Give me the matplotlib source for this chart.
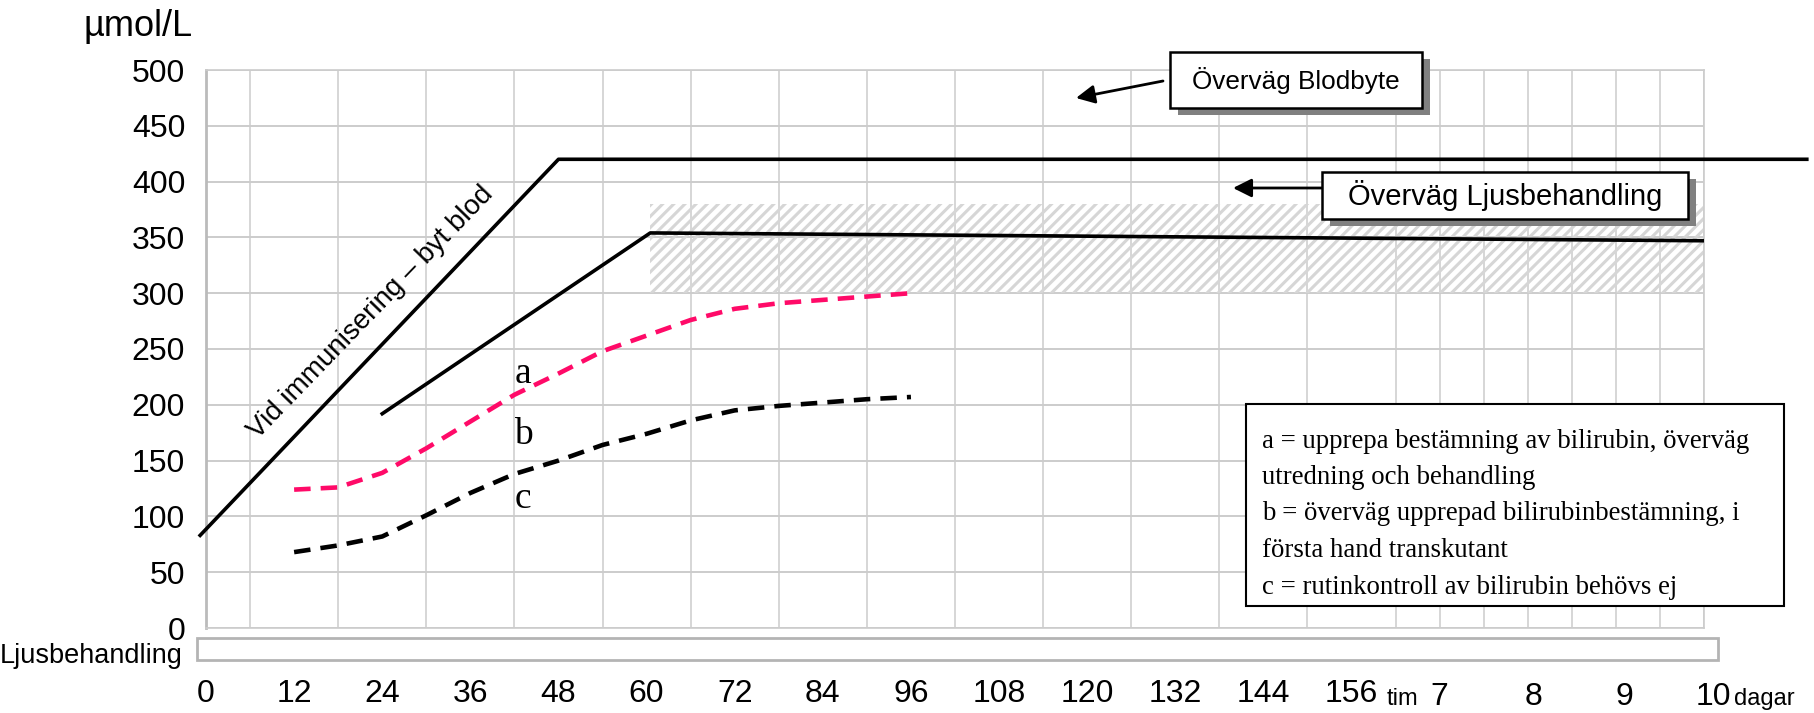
import numpy as np
import matplotlib
matplotlib.use('Agg')
import matplotlib.pyplot as plt
from matplotlib.patches import Rectangle

plt.rcParams['font.family'] = ['Liberation Sans', 'DejaVu Sans']
plt.rcParams['hatch.linewidth'] = 2.2

# data (hours, umol/L)
exchange_x = [-0.8, 48, 218]
exchange_y = [83, 420, 420]
photo_x = [24, 60.5, 204]
photo_y = [192, 354, 347]
band_x = [60.5, 204]
band_low = 300
band_high = 380

curve_hours = [12, 18, 24, 30, 36, 42, 48, 54, 60, 66, 72, 78, 84, 90, 96]
curve_a = [124, 126, 139, 161, 185, 209, 228, 248, 262, 276, 286, 291, 294, 297, 300]
curve_c = [68, 74, 82, 101, 121, 138, 150, 164, 174, 186, 195, 199, 202, 205, 207]

hour_ticks = list(range(0, 157, 12))
day_pos = [168, 180.8, 193.2, 205.3]
day_labels = ['7', '8', '9', '10']
y_ticks = list(range(0, 501, 50))

legend_lines = [
    'a = upprepa bestämning av bilirubin, överväg',
    'utredning och behandling',
    'b = överväg upprepad bilirubinbestämning, i',
    'första hand transkutant',
    'c = rutinkontroll av bilirubin behövs ej',
]

W, H = 1815, 713
def fx(x):
    return x / W
def fy(y):
    return 1 - y / H

fig = plt.figure(figsize=(W / 100, H / 100), dpi=100)
ax = fig.add_axes([fx(206), fy(628), (1704 - 206) / W, (628 - 70) / H])

ax.set_xlim(0, 204)
ax.set_ylim(0, 500)

# grid
ax.set_xticks(np.arange(0, 205, 6), minor=True)
ax.set_xticks(hour_ticks)
ax.set_xticklabels([str(h) for h in hour_ticks])
ax.set_yticks(y_ticks)
ax.grid(which='minor', axis='x', color='#cccccc', lw=1.1)
ax.grid(which='major', axis='y', color='#cccccc', lw=1.4)
ax.tick_params(which='both', length=0)
ax.tick_params(axis='x', labelsize=23, pad=37)
ax.tick_params(axis='y', labelsize=23, pad=15)
for s in ax.spines.values():
    s.set_color('#cccccc')
    s.set_linewidth(1.2)
ax.spines['left'].set_color('#bbbbbb')
ax.spines['left'].set_linewidth(2)
ax.set_axisbelow(True)

# hatched zone
ax.fill_between(band_x, band_low, band_high, facecolor='none', edgecolor='#d6d6d6',
                hatch='///', linewidth=0, zorder=1)

ax.plot(exchange_x, exchange_y, color='black', lw=2.6, clip_on=False, zorder=3)
ax.plot(photo_x, photo_y, color='black', lw=2.6, zorder=3)
ax.plot(curve_hours, curve_a, color='#ff0a68', lw=3.3, dashes=(3.6, 2.2), zorder=3)
ax.plot(curve_hours, curve_c, color='black', lw=3.3, dashes=(3.6, 2.2), zorder=3)

for lab, yv in [('a', 228), ('b', 173), ('c', 116)]:
    ax.text(43.2, yv, lab, family='Liberation Serif', fontsize=27, ha='center', va='center')

ax.text(22.4, 283, 'Vid immunisering – byt blod', rotation=46, rotation_mode='anchor',
        ha='center', va='center', fontsize=20)

# day labels and extra x-axis words
xt = ax.get_xaxis_transform()
for p, lab in zip(day_pos, day_labels):
    ax.text(p, -0.138, lab, transform=xt, fontsize=23, ha='center', va='baseline',
            clip_on=False)
ax.text(163, -0.138, 'tim', transform=xt, fontsize=17, ha='center', va='baseline')
ax.text(208.1, -0.138, 'dagar', transform=xt, fontsize=17,
        ha='left', va='baseline', clip_on=False)

fig.text(fx(138), fy(36), 'µmol/L', fontsize=26, ha='center', va='baseline')
fig.text(fx(183), fy(663), 'Ljusbehandling', fontsize=19.5, ha='right', va='baseline')

# phototherapy bar
fig.add_artist(Rectangle((fx(197), fy(660)), (1718 - 197) / W, (660 - 638) / H,
                         transform=fig.transFigure, facecolor='white',
                         edgecolor='#b4b4b4', lw=2))

def shadow_box(x0, y0, x1, y1, text, size):
    fig.add_artist(Rectangle((fx(x0 + 8), fy(y1 + 7)), (x1 - x0) / W, (y1 - y0) / H,
                             transform=fig.transFigure, facecolor='#808080',
                             edgecolor='none', zorder=4))
    fig.add_artist(Rectangle((fx(x0), fy(y1)), (x1 - x0) / W, (y1 - y0) / H,
                             transform=fig.transFigure, facecolor='white',
                             edgecolor='black', lw=1.8, zorder=5))
    fig.text(fx((x0 + x1) / 2), fy((y0 + y1) / 2), text, fontsize=size,
             ha='center', va='center', zorder=6)

shadow_box(1170, 52, 1422, 108, 'Överväg Blodbyte', 18.8)
shadow_box(1322, 172, 1688, 219, 'Överväg Ljusbehandling', 21)

fig.add_artist(plt.Annotation('', xy=(1076, H - 98), xytext=(1163, H - 81),
                              xycoords='figure pixels', textcoords='figure pixels',
                              arrowprops=dict(arrowstyle='-|>', color='black', lw=2,
                                              mutation_scale=28, shrinkA=0, shrinkB=0)))
fig.add_artist(plt.Annotation('', xy=(1233, H - 188), xytext=(1322, H - 188),
                              xycoords='figure pixels', textcoords='figure pixels',
                              arrowprops=dict(arrowstyle='-|>', color='black', lw=2,
                                              mutation_scale=28, shrinkA=0, shrinkB=0)))

# legend box
fig.add_artist(Rectangle((fx(1246), fy(606)), (1784 - 1246) / W, (606 - 404) / H,
                         transform=fig.transFigure, facecolor='white',
                         edgecolor='black', lw=1.5, zorder=4))
for i, line in enumerate(legend_lines):
    fig.text(fx(1262), fy(441 + i * 36.5), line, family='Liberation Serif', fontsize=19.3,
             ha='left', va='center', zorder=6)

fig.savefig('out.png', dpi=100)
